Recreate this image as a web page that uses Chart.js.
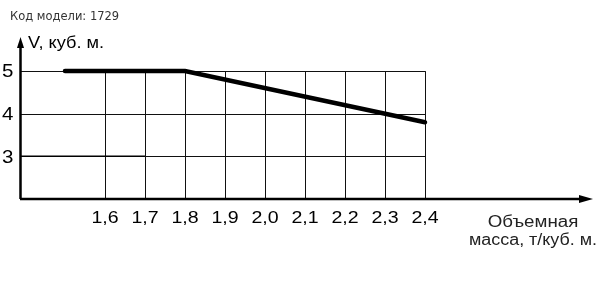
<!DOCTYPE html>
<html>
<head>
<meta charset="utf-8">
<script src="https://cdn.jsdelivr.net/npm/chart.js@4"></script>
<style>
  html, body { margin: 0; padding: 0; background: #fff; }
  canvas { display: block; }
</style>
</head>
<body>
<canvas id="chart" width="600" height="282"></canvas>
<script>
const massTicks = [1.6, 1.7, 1.8, 1.9, 2.0, 2.1, 2.2, 2.3, 2.4]
const massLabels = ["1,6", "1,7", "1,8", "1,9", "2,0", "2,1", "2,2", "2,3", "2,4"]
const volumeTicks = [3, 4, 5]
const volumeLabels = ["3", "4", "5"]

// thick curve: volume vs bulk density
const curveMass = [1.5, 1.8, 2.4]
const curveVolume = [5, 5, 3.8]

// thin line at 3
const baseMass = [1.3875, 1.7]
const baseVolume = [3, 3]

const titleText = "Код модели: 1729"
const yTitle = "V, куб. м."
const xTitle = ["Объемная", "масса, т/куб. м."]

const toPoints = (xs, ys) => xs.map((x, i) => ({ x, y: ys[i] }))

const sans = '"Liberation Sans", Arial, sans-serif'

function stretchText(ctx, text, x, y, align, sx) {
  ctx.save()
  ctx.translate(x, y)
  ctx.scale(sx, 1)
  ctx.textAlign = align
  ctx.fillText(text, 0, 0)
  ctx.restore()
}

const framePlugin = {
  id: "frame",
  beforeDatasetsDraw(chart) {
    const { ctx, chartArea, scales: { x, y } } = chart
    const gridRight = x.getPixelForValue(massTicks[massTicks.length - 1])
    const gridTop = y.getPixelForValue(volumeTicks[volumeTicks.length - 1])
    const left = chartArea.left
    const bottom = chartArea.bottom

    ctx.save()
    ctx.strokeStyle = "#111"
    ctx.lineWidth = 1
    volumeTicks.forEach(v => {
      const py = Math.round(y.getPixelForValue(v)) + 0.5
      ctx.beginPath()
      ctx.moveTo(left, py)
      ctx.lineTo(gridRight, py)
      ctx.stroke()
    })
    massTicks.forEach(m => {
      const px = Math.round(x.getPixelForValue(m)) + 0.5
      ctx.beginPath()
      ctx.moveTo(px, gridTop)
      ctx.lineTo(px, bottom)
      ctx.stroke()
    })

    // axes
    ctx.strokeStyle = "#000"
    ctx.lineWidth = 2.5
    ctx.beginPath()
    ctx.moveTo(left + 0.5, bottom)
    ctx.lineTo(left + 0.5, chartArea.top + 8)
    ctx.moveTo(left, bottom)
    ctx.lineTo(chartArea.right - 12, bottom)
    ctx.stroke()

    ctx.fillStyle = "#000"
    ctx.beginPath()
    ctx.moveTo(left + 0.5, chartArea.top)
    ctx.lineTo(left + 4, chartArea.top + 11)
    ctx.lineTo(left - 3, chartArea.top + 11)
    ctx.closePath()
    ctx.fill()
    ctx.beginPath()
    ctx.moveTo(chartArea.right, bottom)
    ctx.lineTo(chartArea.right - 14, bottom - 4)
    ctx.lineTo(chartArea.right - 14, bottom + 4)
    ctx.closePath()
    ctx.fill()

    // tick labels
    ctx.fillStyle = "#000"
    ctx.textBaseline = "middle"
    ctx.font = "19px " + sans
    volumeTicks.forEach((v, i) => {
      stretchText(ctx, volumeLabels[i], 13.5, y.getPixelForValue(v) + 1, "right", 1.08)
    })
    ctx.font = "17px " + sans
    massTicks.forEach((m, i) => {
      stretchText(ctx, massLabels[i], x.getPixelForValue(m), bottom + 19, "center", 1.15)
    })

    // axis titles
    ctx.textBaseline = "alphabetic"
    ctx.font = "17px " + sans
    stretchText(ctx, yTitle, 28, 48, "left", 1.07)
    ctx.fillStyle = "#222"
    ctx.font = "16px " + sans
    stretchText(ctx, xTitle[0], 533, 227, "center", 1.17)
    stretchText(ctx, xTitle[1], 597, 245, "right", 1.12)

    // model code
    ctx.fillStyle = "#333"
    ctx.font = '11.5px "DejaVu Sans", sans-serif'
    ctx.textAlign = "left"
    ctx.fillText(titleText, 10, 20)
    ctx.restore()
  }
}

new Chart(document.getElementById("chart"), {
  type: "line",
  data: {
    datasets: [
      {
        data: toPoints(curveMass, curveVolume),
        borderColor: "#000",
        borderWidth: 4.5,
        borderCapStyle: "round",
        pointRadius: 0,
        tension: 0
      },
      {
        data: toPoints(baseMass, baseVolume),
        borderColor: "#000",
        borderWidth: 1.5,
        pointRadius: 0,
        tension: 0
      }
    ]
  },
  options: {
    responsive: false,
    animation: false,
    devicePixelRatio: 1,
    layout: { padding: { left: 20, top: 37, right: 7, bottom: 83 } },
    plugins: {
      legend: { display: false },
      tooltip: { enabled: false }
    },
    scales: {
      x: { type: "linear", min: 1.3875, max: 2.82, display: false },
      y: { type: "linear", min: 2, max: 5.8, display: false }
    }
  },
  plugins: [framePlugin]
})
</script>
</body>
</html>
